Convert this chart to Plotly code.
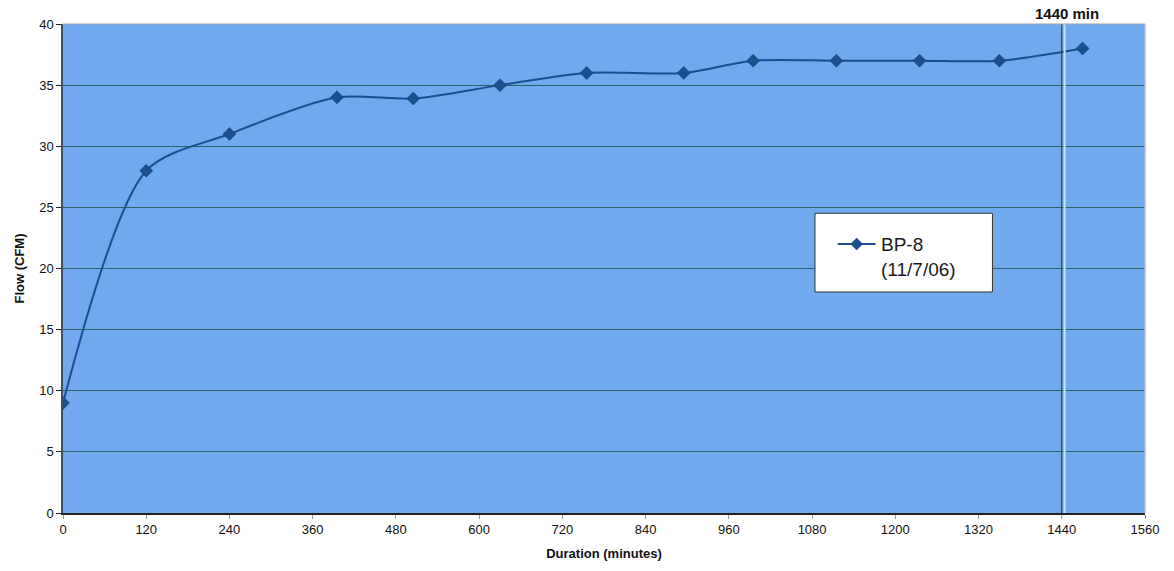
import plotly.graph_objects as go

# Blower test BP-8, flow vs. elapsed time
duration_min = [0, 120, 240, 395, 505, 630, 755, 895, 995, 1115, 1235, 1350, 1470]
flow_cfm = [9, 28, 31, 34, 33.9, 35, 36, 36, 37, 37, 37, 37, 38]
x_ticks = [0, 120, 240, 360, 480, 600, 720, 840, 960, 1080, 1200, 1320, 1440, 1560]
y_ticks = [0, 5, 10, 15, 20, 25, 30, 35, 40]
marker_time = 1440
series_label = ["BP-8", "(11/7/06)"]

font_family = "Liberation Sans, Arial, sans-serif"
line_blue = "#1c4f8e"
grid_col = "#2e5e66"

fig = go.Figure()
fig.add_trace(go.Scatter(
    x=duration_min, y=flow_cfm,
    mode="lines+markers",
    name=" ".join(series_label),
    showlegend=False,
    line=dict(color=line_blue, width=2, shape="spline", smoothing=0.8),
    marker=dict(symbol="diamond", size=10, color=line_blue,
                line=dict(color="#153d70", width=0.5)),
))

# elapsed-time reference line at 1440 minutes
fig.add_shape(type="line", xref="x", yref="y domain",
              x0=marker_time + 4, x1=marker_time + 4, y0=0, y1=1,
              line=dict(color="#c8e0f8", width=2))
fig.add_shape(type="line", xref="x", yref="y domain",
              x0=marker_time, x1=marker_time, y0=0, y1=1,
              line=dict(color="#25445e", width=1.2))
fig.add_annotation(x=marker_time + 8, y=1.0, xref="x", yref="paper",
                   yanchor="bottom", yshift=0, showarrow=False,
                   text="<b>1440 min</b>",
                   font=dict(family=font_family, size=15, color="#111"))

# legend box drawn in paper coordinates
lx0, lx1, ly0, ly1 = 0.695, 0.859, 0.452, 0.613
sym_y = 0.550
fig.add_shape(type="rect", xref="paper", yref="paper",
              x0=lx0, x1=lx1, y0=ly0, y1=ly1,
              fillcolor="white", line=dict(color="#333", width=1), layer="above")
fig.add_shape(type="line", xref="paper", yref="paper",
              x0=0.716, x1=0.751, y0=sym_y, y1=sym_y,
              line=dict(color=line_blue, width=2), layer="above")
dx, dy, cx = 0.0055, 0.0122, 0.7335
fig.add_shape(type="path", xref="paper", yref="paper", layer="above",
              path=f"M {cx-dx},{sym_y} L {cx},{sym_y+dy} L {cx+dx},{sym_y} L {cx},{sym_y-dy} Z",
              fillcolor=line_blue, line=dict(color="#153d70", width=0.5))
fig.add_annotation(x=0.7545, y=sym_y, xref="paper", yref="paper",
                   xanchor="left", yanchor="middle", showarrow=False,
                   text=series_label[0],
                   font=dict(family=font_family, size=19, color="#1a1a1a"))
fig.add_annotation(x=0.7545, y=0.497, xref="paper", yref="paper",
                   xanchor="left", yanchor="middle", showarrow=False,
                   text=series_label[1],
                   font=dict(family=font_family, size=19, color="#1a1a1a"))

fig.update_layout(
    width=1174, height=571,
    margin=dict(l=63, r=29, t=24, b=54),
    paper_bgcolor="white",
    plot_bgcolor="#71a9ee",
    font=dict(family=font_family, color="#111"),
    showlegend=False,
)
fig.update_xaxes(
    range=[0, 1560], tickvals=x_ticks, ticktext=[str(v) for v in x_ticks],
    showgrid=False, zeroline=False,
    showline=True, linecolor="#222", linewidth=1.5,
    ticks="outside", ticklen=4, tickcolor="#999",
    tickfont=dict(size=13, family=font_family, color="#111"),
    title=dict(text="<b>Duration (minutes)</b>",
               font=dict(size=13, family=font_family, color="#111"), standoff=13),
)
fig.update_yaxes(
    range=[0, 40], tickvals=y_ticks, ticktext=[str(v) for v in y_ticks],
    showgrid=True, gridcolor=grid_col, gridwidth=1, zeroline=False,
    showline=True, linecolor="#3a4f70", linewidth=1.5,
    ticks="outside", ticklen=5, tickcolor="#222",
    tickfont=dict(size=13, family=font_family, color="#111"),
    title=dict(text="<b>Flow (CFM)</b>",
               font=dict(size=13, family=font_family, color="#111"), standoff=12),
)
# light frame on top and right of plot area
fig.add_shape(type="line", xref="paper", yref="paper", x0=0, x1=1, y0=1, y1=1,
              line=dict(color="#9aa3ad", width=1))
fig.add_shape(type="line", xref="paper", yref="paper", x0=1, x1=1, y0=0, y1=1,
              line=dict(color="#b8bcc2", width=1.5))

fig.write_html("out.html")
